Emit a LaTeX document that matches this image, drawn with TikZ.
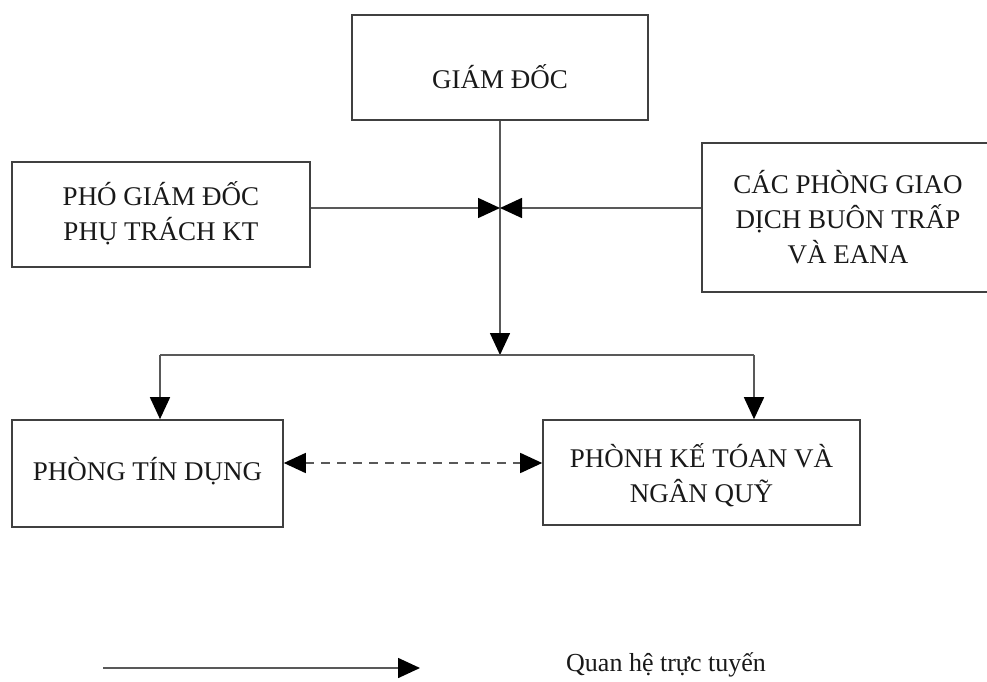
\documentclass[tikz,border=0pt]{standalone}
\usepackage{fontspec}
\setmainfont{Liberation Serif}
\usetikzlibrary{arrows.meta}
\newcommand{\lowertext}[2]{\raisebox{-#1}[\height][\depth]{\begin{tabular}{@{}c@{}}#2\end{tabular}}}
\begin{document}
\begin{tikzpicture}[x=1pt,y=-1pt,
  box/.style={draw=black!75,line width=1.6pt,inner sep=0pt,align=center,font=\fontsize{27}{35}\selectfont},
  conn/.style={draw=black!65,line width=1.6pt},
  arr/.tip={Triangle[length=22pt,width=20pt,color=black]},
  tip/.style={-arr},
  every node/.append style={text=black!90}]
\clip (0,0) rectangle (987,682);
\useasboundingbox (0,0) rectangle (987,682);
\node[box,minimum width=296pt,minimum height=105pt] (gd) at (500,67.5) {\lowertext{14pt}{GIÁM ĐỐC}};
\node[box,minimum width=298pt,minimum height=105pt] (pho) at (161,214.5) {\lowertext{1pt}{PHÓ GIÁM ĐỐC\\PHỤ TRÁCH KT}};
\node[box,minimum width=292pt,minimum height=149pt] (cac) at (848,217.5) {\lowertext{4pt}{CÁC PHÒNG GIAO\\DỊCH BUÔN TRẤP\\VÀ EANA}};
\node[box,minimum width=271pt,minimum height=107pt] (ptd) at (147.5,473.5) {\lowertext{0pt}{PHÒNG TÍN DỤNG}};
\node[box,minimum width=317pt,minimum height=105pt] (pkt) at (701.5,472.5) {\lowertext{5pt}{PHÒNH KẾ TÓAN VÀ\\NGÂN QUỸ}};
\coordinate (hub) at (500,355);
\coordinate (mid) at (500,208);
\coordinate (bl) at (160,355);
\coordinate (br) at (754,355);
\draw[conn,tip] (gd.south) -- (hub);
\draw[conn,tip] (pho.east |- mid) -- (mid);
\draw[conn,tip] (cac.west |- mid) -- (mid);
\draw[conn] (bl) -- (br);
\draw[conn,tip] (bl) -- (bl |- ptd.north);
\draw[conn,tip] (br) -- (br |- pkt.north);
\draw[conn,dash pattern=on 9pt off 7pt,arr-arr] (ptd.east |- 0,463) -- (pkt.west |- 0,463);
\coordinate (la) at (103,668);
\coordinate (lb) at (420,668);
\draw[conn,tip] (la) -- (lb);
\node[anchor=west,font=\fontsize{26}{30}\selectfont,inner sep=0pt] (leg) at (566,665) {Quan hệ trực tuyến};
\end{tikzpicture}
\end{document}
